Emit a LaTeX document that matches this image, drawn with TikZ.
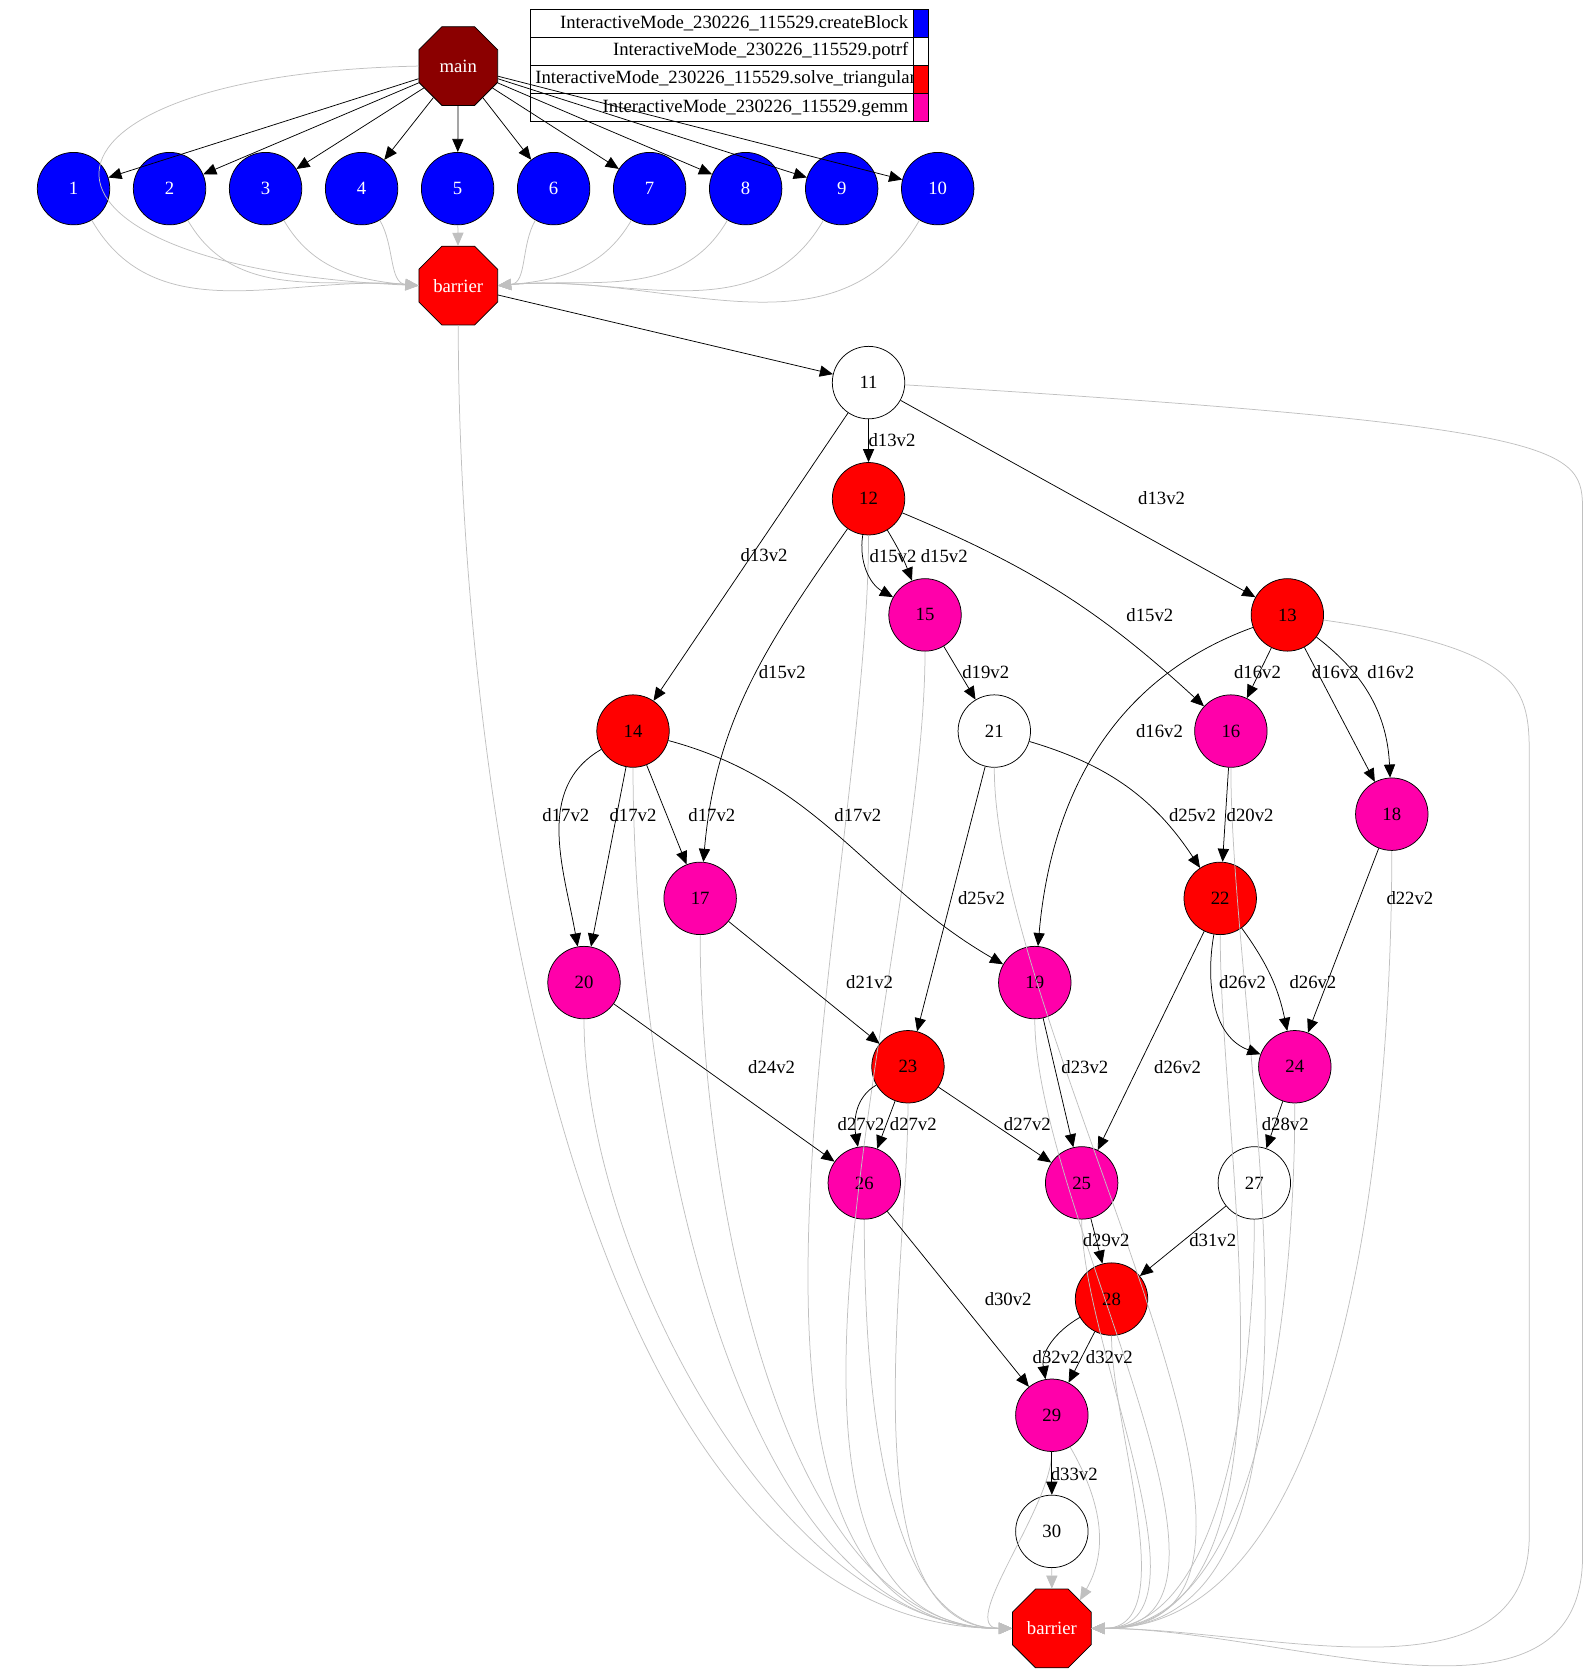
\documentclass[tikz,border=0pt]{standalone}
\usepackage{fontspec}
\setmainfont{Liberation Serif}
\usetikzlibrary{shapes.geometric,arrows.meta}
\definecolor{gmag}{RGB}{255,0,170}
\definecolor{gred}{RGB}{255,0,0}
\definecolor{gblue}{RGB}{0,0,255}
\definecolor{gdark}{RGB}{139,0,0}
\definecolor{glight}{RGB}{192,192,192}
\begin{document}
\begin{tikzpicture}[x=0.02cm,y=-0.02cm,font=\fontsize{10}{12}\selectfont,
    task/.style={circle,draw,minimum size=1.36cm,inner sep=0pt},
    blk/.style={task,fill=gblue,text=white},
    pot/.style={task,fill=white},
    sol/.style={task,fill=gred},
    gem/.style={task,fill=gmag},
    oct/.style={regular polygon,regular polygon sides=8,draw,minimum size=1.6cm,inner sep=0pt,text=white},
    dep/.style={-{Triangle[length=7pt,width=6pt]},black},
    sync/.style={-{Triangle[length=7pt,width=6pt]},glight}]
\useasboundingbox (0,0) rectangle (1488,1568);
% legend
\foreach \t/\c [count=\i] in {createBlock/gblue,potrf/white,solve\_triangular/gred,gemm/gmag}
  {\node[draw,minimum width=7.2cm,minimum height=0.53cm,inner sep=2pt,align=right,text width=7cm,anchor=north west]
      (key\i) at (497,8+26.5*\i-26.5) {InteractiveMode\_230226\_115529.\t};
   \node[draw,fill=\c,minimum width=0.28cm,minimum height=0.53cm,inner sep=0pt,anchor=north west]
      (sw\i) at (857,8+26.5*\i-26.5) {};}
% nodes
\node[oct,fill=gdark] (main) at (430,62) {main};
\foreach \i in {1,...,10}
  \node[blk] (n\i) at (69+90.1*\i-90.1,177) {\i};
\node[oct,fill=gred] (b1) at (430,268) {barrier};
\node[pot] (n11) at (815,359) {11};
\node[sol] (n12) at (815,468) {12};
\node[sol] (n13) at (1208,577) {13};
\node[sol] (n14) at (594,686) {14};
\node[gem] (n15) at (868,577) {15};
\node[gem] (n16) at (1155,686) {16};
\node[gem] (n17) at (657,843) {17};
\node[gem] (n18) at (1306,764) {18};
\node[gem] (n19) at (971,922) {19};
\node[gem] (n20) at (548,922) {20};
\node[pot] (n21) at (933,686) {21};
\node[sol] (n22) at (1145,843) {22};
\node[sol] (n23) at (852,1001) {23};
\node[gem] (n24) at (1215,1001) {24};
\node[gem] (n25) at (1015,1110) {25};
\node[gem] (n26) at (811,1110) {26};
\node[pot] (n27) at (1177,1110) {27};
\node[sol] (n28) at (1043,1219) {28};
\node[gem] (n29) at (987,1328) {29};
\node[pot] (n30) at (987,1437) {30};
\node[oct,fill=gred] (b2) at (987,1528) {barrier};
% sync edges
\draw[sync] (main.west) .. controls (0,70) and (-10,250) .. (b1.west);
\foreach \i in {1,...,4} \draw[sync] (n\i) to[out=-60,in=175] (b1.west);
\draw[sync] (n5) -- (b1);
\foreach \i in {6,...,10} \draw[sync] (n\i) to[out=-120,in=5] (b1.east);
\foreach \i in {b1,n14,n20,n17,n12,n23,n26,n15,n29}
  \draw[sync] (\i) to[out=-90,in=180,looseness=0.8] (b2.west);
\foreach \i in {n21,n19,n25,n28,n27,n24,n22,n16,n18}
  \draw[sync] (\i) to[out=-90,in=0,looseness=0.8] (b2.east);
\draw[sync] (n29) to[out=-60,in=60] (b2.north east);
\draw[sync] (n13) .. controls (1440,610) and (1435,650) .. (1435,720) -- (1435,1440) to[out=-90,in=0] (b2.east);
\draw[sync] (n11) .. controls (1480,400) and (1485,420) .. (1485,480) -- (1485,1460) to[out=-90,in=0] (b2.east);
\draw[sync] (n30) -- (b2);
% dependency edges
\foreach \i in {1,...,10} \draw[dep] (main) -- (n\i);
\draw[dep] (b1) -- (n11);
\draw[dep] (n11) -- (n12) node at (837,413) {d13v2};
\draw[dep] (n11) -- (n13) node at (1090,467) {d13v2};
\draw[dep] (n11) -- (n14) node at (717,521) {d13v2};
\draw[dep] (n12) to[bend right=35] (n15) node at (838,522) {d15v2};
\draw[dep] (n12) to[bend left=5] (n15) node at (886,522) {d15v2};
\draw[dep] (n12) to[bend left=10] (n16) node at (1079,577) {d15v2};
\draw[dep] (n12) to[out=-125,in=85] (n17) node at (734,631) {d15v2};
\draw[dep] (n13) -- (n16) node at (1180,631) {d16v2};
\draw[dep] (n13) -- (n18) node at (1253,631) {d16v2};
\draw[dep] (n13) to[bend left=25] (n18) node at (1305,631) {d16v2};
\draw[dep] (n13) to[out=-160,in=85] (n19) node at (1088,686) {d16v2};
\draw[dep] (n14) to[out=-150,in=100] (n20) node at (531,765) {d17v2};
\draw[dep] (n14) -- (n20) node at (594,765) {d17v2};
\draw[dep] (n14) -- (n17) node at (668,765) {d17v2};
\draw[dep] (n14) to[out=-15,in=150] (n19) node at (805,765) {d17v2};
\draw[dep] (n15) -- (n21) node at (925,631) {d19v2};
\draw[dep] (n16) -- (n22) node at (1173,765) {d20v2};
\draw[dep] (n17) -- (n23) node at (816,922) {d21v2};
\draw[dep] (n18) -- (n24) node at (1323,843) {d22v2};
\draw[dep] (n19) -- (n25) node at (1018,1001) {d23v2};
\draw[dep] (n20) -- (n26) node at (724,1001) {d24v2};
\draw[dep] (n21) to[bend left=20] (n22) node at (1119,765) {d25v2};
\draw[dep] (n21) -- (n23) node at (921,843) {d25v2};
\draw[dep] (n22) to[out=-100,in=160] (n24) node at (1166,922) {d26v2};
\draw[dep] (n22) to[bend left=12] (n24) node at (1232,922) {d26v2};
\draw[dep] (n22) -- (n25) node at (1105,1001) {d26v2};
\draw[dep] (n23) to[out=-150,in=100] (n26) node at (808,1055) {d27v2};
\draw[dep] (n23) -- (n26) node at (857,1055) {d27v2};
\draw[dep] (n23) -- (n25) node at (964,1055) {d27v2};
\draw[dep] (n24) -- (n27) node at (1206,1055) {d28v2};
\draw[dep] (n25) -- (n28) node at (1038,1164) {d29v2};
\draw[dep] (n26) -- (n29) node at (946,1219) {d30v2};
\draw[dep] (n27) -- (n28) node at (1138,1164) {d31v2};
\draw[dep] (n28) to[out=-150,in=100] (n29) node at (991,1273) {d32v2};
\draw[dep] (n28) -- (n29) node at (1041,1273) {d32v2};
\draw[dep] (n29) -- (n30) node at (1008,1383) {d33v2};
\end{tikzpicture}
\end{document}
